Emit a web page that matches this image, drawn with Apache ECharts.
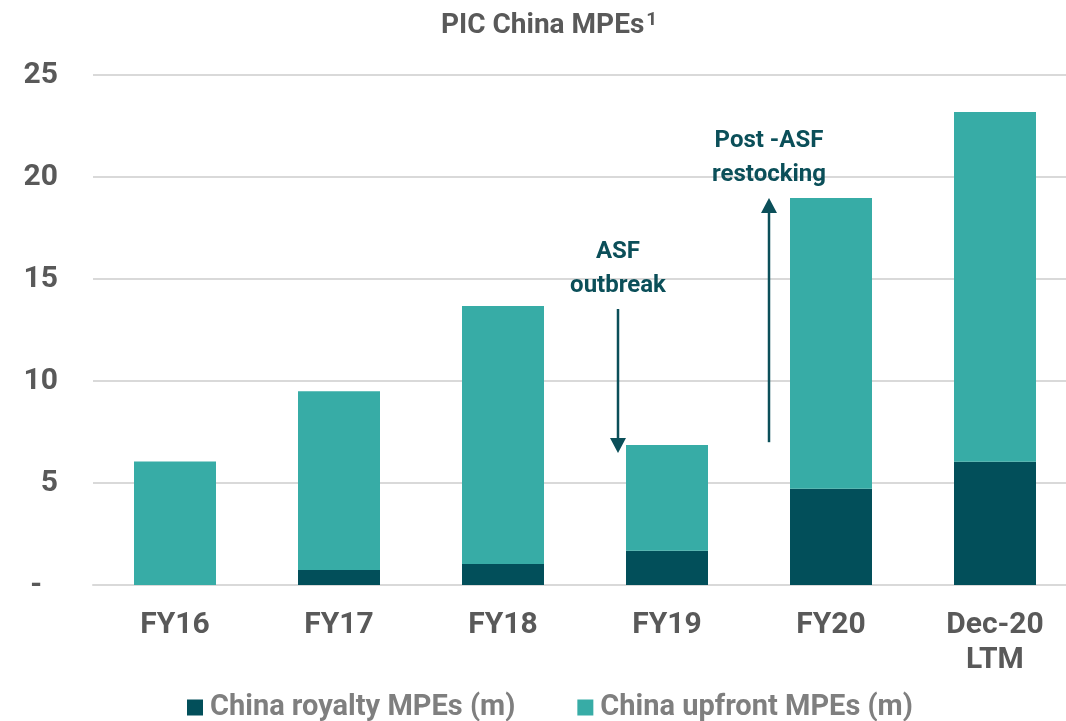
<!DOCTYPE html>
<html>
<head>
<meta charset="utf-8">
<script src="https://cdn.jsdelivr.net/npm/echarts@6/dist/echarts.min.js"></script>
<style>
  html, body { margin: 0; padding: 0; background: #fff; }
  #chart { width: 1066px; height: 721px; }
</style>
</head>
<body>
<div id="chart"></div>
<script>
// categories
const categories = ['FY16', 'FY17', 'FY18', 'FY19', 'FY20', 'Dec-20\nLTM']
// China royalty MPEs (m)
const royalty = [0, 0.74, 1.03, 1.68, 4.72, 6.04]
// China upfront MPEs (m)
const upfront = [6.05, 8.76, 12.65, 5.18, 14.25, 17.15]
const yTicks = [0, 5, 10, 15, 20, 25]

const FONT = 'Roboto, "Noto Sans", sans-serif'
const ANNO = '#0b4f59'

const chart = echarts.init(document.getElementById('chart'))

const option = {
  animation: false,
  title: {
    text: '{a|PIC China MPEs}{s|1}',
    left: 436,
    top: 6,
    textStyle: {
      rich: {
        a: { fontFamily: FONT, fontSize: 28, color: '#595959', fontWeight: 'bold' },
        s: { fontFamily: FONT, fontSize: 19, color: '#595959', fontWeight: 'bold', verticalAlign: 'top', padding: [0, 0, 10, 2] }
      }
    }
  },
  grid: { left: 93, top: 75, right: -11, bottom: 136, outerBoundsMode: 'none' },
  legend: {
    bottom: -6,
    left: 182,
    itemGap: 62,
    itemWidth: 16,
    itemHeight: 16,
    icon: 'rect',
    textStyle: { fontFamily: FONT, fontSize: 29, fontWeight: 'bold', color: '#7f7f7f', padding: [0, 0, 0, 2] },
    data: ['China royalty MPEs (m)', 'China upfront MPEs (m)']
  },
  xAxis: {
    type: 'category',
    data: categories,
    axisLine: { show: true, lineStyle: { color: '#d9d9d9', width: 2 } },
    axisTick: { show: false },
    axisLabel: {
      fontFamily: FONT, fontSize: 30, fontWeight: 'bold', color: '#595959',
      margin: 23, lineHeight: 35, interval: 0
    }
  },
  yAxis: {
    type: 'value',
    min: yTicks[0],
    max: yTicks[yTicks.length - 1],
    interval: 5,
    axisLine: { show: false },
    axisTick: { show: false },
    splitLine: { lineStyle: { color: '#d9d9d9', width: 2 } },
    axisLabel: {
      margin: 35,
      fontFamily: FONT, fontSize: 30, fontWeight: 'bold', color: '#595959',
      formatter: (v) => (v === 0 ? '{d|-}' : String(v)),
      rich: { d: { fontFamily: FONT, fontSize: 30, fontWeight: 'bold', color: '#595959', padding: [0, 16, 0, 0] } }
    }
  },
  series: [
    {
      name: 'China royalty MPEs (m)',
      type: 'bar',
      stack: 'mpe',
      barWidth: '50%',
      data: royalty,
      itemStyle: { color: '#024f5a' }
    },
    {
      name: 'China upfront MPEs (m)',
      type: 'bar',
      stack: 'mpe',
      barWidth: '50%',
      data: upfront,
      itemStyle: { color: '#37aca6' }
    }
  ]
}
chart.setOption(option)

// 注释箭头
const p = (i, v) => chart.convertToPixel({ gridIndex: 0 }, [i, v])
const downTop = p(3, 13.53)
const downTip = p(3, 6.47)
const upBottom = p(4, 7.0)
const upTip = p(4, 18.97)
const xDown = downTop[0] - 49
const xUp = upBottom[0] - 62

chart.setOption({
  graphic: [
    { type: 'line', shape: { x1: xDown, y1: downTop[1], x2: xDown, y2: downTip[1] - 12 }, style: { stroke: ANNO, lineWidth: 2.5 } },
    { type: 'polygon', shape: { points: [[xDown - 8, downTip[1] - 15], [xDown + 8, downTip[1] - 15], [xDown, downTip[1]]] }, style: { fill: ANNO } },
    { type: 'line', shape: { x1: xUp, y1: upBottom[1], x2: xUp, y2: upTip[1] + 12 }, style: { stroke: ANNO, lineWidth: 2.5 } },
    { type: 'polygon', shape: { points: [[xUp - 8, upTip[1] + 15], [xUp + 8, upTip[1] + 15], [xUp, upTip[1]]] }, style: { fill: ANNO } },
    {
      type: 'text', x: xDown, y: 235,
      style: { text: 'ASF\noutbreak', fill: ANNO, font: 'bold 24px Roboto, sans-serif', align: 'center', lineHeight: 34 }
    },
    {
      type: 'text', x: xUp, y: 124,
      style: { text: 'Post -ASF\nrestocking', fill: ANNO, font: 'bold 24px Roboto, sans-serif', align: 'center', lineHeight: 34 }
    }
  ]
})
</script>
</body>
</html>
